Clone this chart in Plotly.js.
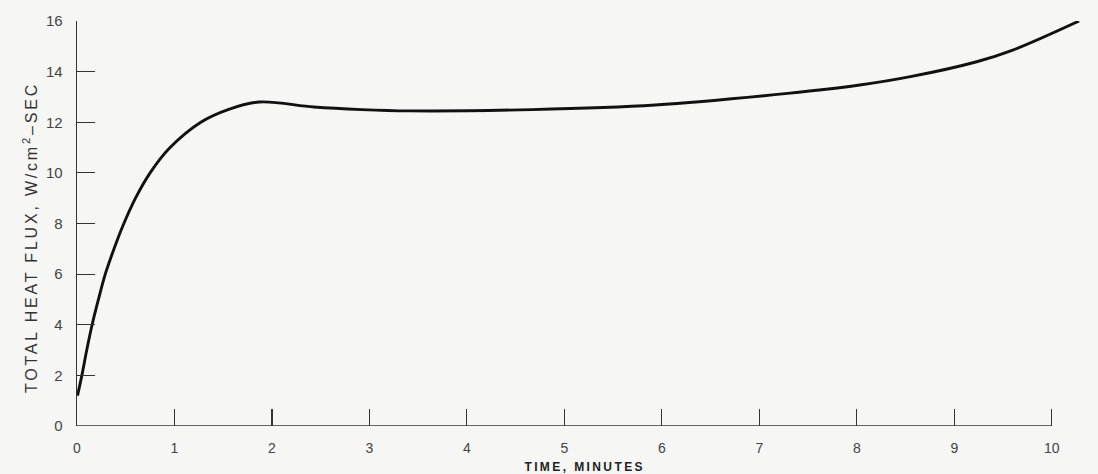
<!DOCTYPE html>
<html>
<head>
<meta charset="utf-8">
<script src="https://cdn.plot.ly/plotly-3.0.1.min.js"></script>
<style>
  html, body { margin: 0; padding: 0; background: #f6f6f4; }
  #chart { width: 1098px; height: 474px; }
  .annotation[data-index="0"] text { letter-spacing: 2.4px; }
  .annotation[data-index="1"] text { letter-spacing: 2.8px; }
</style>
</head>
<body>
<div id="chart"></div>
<script>
// Data (time in minutes, total heat flux W/cm^2-sec)
const timeMin = [0.005, 0.05, 0.10, 0.155, 0.22, 0.29, 0.38, 0.47, 0.60, 0.75, 0.95, 1.27, 1.55, 1.87, 2.43, 2.92, 3.41, 4.67, 5.93, 7.29, 8.03, 8.55, 9.23, 9.60, 10.28];
const heatFlux = [1.20, 2.00, 3.00, 4.00, 5.00, 6.00, 7.00, 7.90, 9.00, 10.00, 10.98, 12.00, 12.50, 12.80, 12.60, 12.50, 12.45, 12.50, 12.68, 13.14, 13.47, 13.80, 14.39, 14.85, 16.00];
const xTicks = [0, 1, 2, 3, 4, 5, 6, 7, 8, 9, 10];
const yTicks = [0, 2, 4, 6, 8, 10, 12, 14, 16];
const xTitle = "TIME, MINUTES";
const yTitle = "TOTAL HEAT FLUX, W/cm<sup>2</sup>\u2013SEC";

const yTickFont = { family: "Liberation Sans, Arial, sans-serif", size: 15, color: "#444" };
const xTickFont = { family: "Liberation Sans, Arial, sans-serif", size: 14, color: "#444" };

const trace = {
  x: timeMin, y: heatFlux, type: "scatter", mode: "lines",
  line: { color: "#111111", width: 2.9, shape: "spline", smoothing: 1 },
  hoverinfo: "skip", cliponaxis: false
};

const layout = {
  width: 1098, height: 474,
  paper_bgcolor: "#f6f6f4", plot_bgcolor: "#f6f6f4",
  margin: { l: 77, r: 17, t: 21, b: 48 },
  showlegend: false,
  xaxis: {
    range: [0, 10.3], tickvals: xTicks, ticktext: xTicks.map(String),
    ticks: "inside", ticklen: 17, tickwidth: 1.1, tickcolor: "#333",
    showline: false, showgrid: false, zeroline: false,
    tickfont: xTickFont, ticklabelstandoff: 12, fixedrange: true
  },
  yaxis: {
    range: [0, 16], tickvals: yTicks, ticktext: yTicks.map(String),
    ticks: "inside", ticklen: 18, tickwidth: 1.2, tickcolor: "#333",
    showline: true, linecolor: "#333", linewidth: 1.3,
    showgrid: false, zeroline: false,
    tickfont: yTickFont, ticklabelstandoff: 10, fixedrange: true
  },
  shapes: [
    { type: "line", xref: "x", yref: "y", x0: 0, x1: 10, y0: 0, y1: 0,
      line: { color: "#333", width: 1.3 } }
  ],
  annotations: [
    { text: xTitle, xref: "paper", yref: "paper", x: 0.505, y: 0, yshift: -41,
      showarrow: false, xanchor: "center", yanchor: "middle",
      font: { family: "Liberation Sans, Arial, sans-serif", size: 12, color: "#222", weight: "bold" } },
    { text: yTitle, xref: "paper", yref: "paper", x: 0, xshift: -47, y: 0.465,
      showarrow: false, textangle: -90, xanchor: "center", yanchor: "middle",
      font: { family: "Liberation Sans, Arial, sans-serif", size: 16, color: "#333" } }
  ]
};

Plotly.newPlot("chart", [trace], layout, { displayModeBar: false, staticPlot: true });
</script>
</body>
</html>
